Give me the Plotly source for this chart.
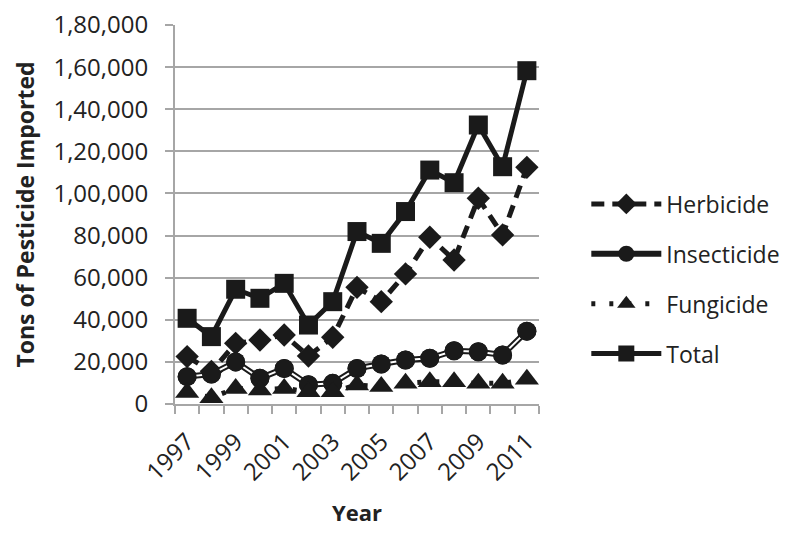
import plotly.graph_objects as go

years = list(range(1997, 2012))
herbicide = [22500, 15500, 28800, 30400, 32800, 22800, 31700, 55400, 48600, 61800, 79200, 68400, 97700, 80300, 112400]
insecticide = [13000, 14200, 20000, 12200, 16900, 9200, 9800, 16900, 19000, 20900, 21700, 25300, 24800, 23300, 34600]
fungicide = [5500, 3000, 7400, 6700, 7400, 5800, 5800, 9000, 8300, 9800, 10600, 10600, 9800, 9800, 11700]
total = [40700, 32000, 54500, 50200, 57300, 37500, 48600, 81900, 76300, 91400, 111100, 105100, 132500, 112700, 158300]

y_tickvals = [0, 20000, 40000, 60000, 80000, 100000, 120000, 140000, 160000, 180000]
y_ticktext = ["0", "20,000", "40,000", "60,000", "80,000", "1,00,000", "1,20,000", "1,40,000", "1,60,000", "1,80,000"]
x_tickvals = [1997, 1999, 2001, 2003, 2005, 2007, 2009, 2011]

FONT = "Open Sans"
BLACK = "#1a1a1a"
TXT = "#222222"
GRID = "#a6a6a6"

fig = go.Figure()

fig.add_trace(go.Scatter(
    x=years, y=herbicide, name="Herbicide", mode="lines+markers",
    line=dict(color=BLACK, width=5, dash="13px,8px"),
    marker=dict(symbol="diamond", size=18, color=BLACK),
    legendgroup="a",
))
fig.add_trace(go.Scatter(
    x=years, y=insecticide, name="Insecticide", mode="lines+markers",
    line=dict(color=BLACK, width=6),
    marker=dict(symbol="circle", size=19, color=BLACK),
    legendgroup="b",
))
fig.add_trace(go.Scatter(
    x=years, y=insecticide, mode="lines", showlegend=False, hoverinfo="skip",
    line=dict(color="white", width=2), legendgroup="b",
))
fig.add_trace(go.Scatter(
    x=years, y=insecticide, mode="markers", showlegend=False, hoverinfo="skip",
    marker=dict(symbol="circle", size=19, color=BLACK), legendgroup="b",
))
fig.add_trace(go.Scatter(
    x=years, y=fungicide, name="Fungicide", mode="lines+markers",
    line=dict(color=BLACK, width=5, dash="4px,14px"),
    marker=dict(symbol="triangle-up", size=21, color=BLACK),
    legendgroup="c",
))
fig.add_trace(go.Scatter(
    x=years, y=total, name="Total", mode="lines+markers",
    line=dict(color=BLACK, width=5),
    marker=dict(symbol="square", size=19, color=BLACK),
    legendgroup="d",
))

fig.update_layout(
    width=800, height=539,
    margin=dict(l=167, r=269, t=17, b=143, autoexpand=False),
    paper_bgcolor="white", plot_bgcolor="white",
    font=dict(family=FONT, size=24, color=TXT),
    showlegend=True,
    legend=dict(
        x=1.13, xanchor="left", y=0.33, yanchor="middle",
        traceorder="grouped", tracegroupgap=17,
        font=dict(family=FONT, size=23, color=TXT),
        itemwidth=70, bgcolor="rgba(0,0,0,0)",
    ),
    xaxis=dict(
        range=[1996.5, 2011.5], automargin=False,
        tickmode="array", tickvals=x_tickvals, ticktext=[str(v) for v in x_tickvals],
        tickangle=-45, ticks="", showgrid=False,
        tickfont=dict(family=FONT, size=24, color=TXT),
        ticklabelstandoff=12, ticklabeloverflow="allow",
        showline=True, linecolor=GRID, linewidth=2,
        minor=dict(tick0=1996.5, dtick=1, ticks="outside", ticklen=8,
                   tickcolor=GRID, tickwidth=2, showgrid=False),
        title=dict(text="<b>Year</b>", font=dict(family=FONT, size=22, color=TXT), standoff=20),
        zeroline=False,
    ),
    yaxis=dict(
        range=[0, 180000], automargin=False,
        tickmode="array", tickvals=y_tickvals, ticktext=y_ticktext,
        ticks="outside", ticklen=8, tickcolor=GRID, tickwidth=2,
        tickfont=dict(family=FONT, size=24, color=TXT),
        ticklabelstandoff=12, ticklabeloverflow="allow",
        showgrid=True, gridcolor=GRID, gridwidth=2,
        showline=True, linecolor=GRID, linewidth=2,
        zeroline=False,
        title=dict(text="<b>Tons of Pesticide Imported</b>", font=dict(family=FONT, size=23, color=TXT), standoff=12),
    ),
)

fig.write_html("out.html")
